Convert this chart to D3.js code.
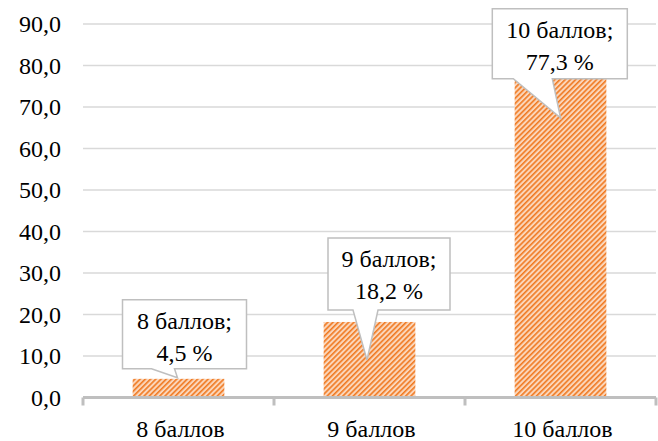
<!DOCTYPE html>
<html>
<head>
<meta charset="utf-8">
<script src="https://cdn.jsdelivr.net/npm/d3@7"></script>
</head>
<body style="margin:0">
<svg id="chart" width="658" height="441"></svg>
<script>
// Доля участников по набранным баллам, %
const categories = ["8 баллов", "9 баллов", "10 баллов"];
const values = [4.5, 18.2, 77.3];
const tickValues = [0, 10, 20, 30, 40, 50, 60, 70, 80, 90];

// Callout placement relative to each bar: box centre offset (dx), box bottom
// offset from the bar top (dy), box size, and where the pointer tip lands.
const calloutLayout = [
  { dx: 6, dy: -10, w: 124, h: 69, tipDx: -1, tipDy: -1, baseL: -33, baseR: -10 },
  { dx: 19.5, dy: -12, w: 122, h: 72, tipDx: -2.5, tipDy: 38, baseL: -36, baseR: -11 },
  { dx: -0.7, dy: 2, w: 135, h: 70, tipDx: 0, tipDy: 41, baseL: -46.5, baseR: -7.5 }
];

const FONT = 24;
const svg = d3.select("#chart");
const margin = { left: 83, right: 2, top: 24, bottom: 43.5 };
const W = 658, H = 441;

const x = d3.scaleBand()
  .domain(categories)
  .range([margin.left, W - margin.right])
  .paddingInner(0.52)
  .paddingOuter(0.26);

const y = d3.scaleLinear()
  .domain([0, 90])
  .range([H - margin.bottom, margin.top]);

const fmt = v => d3.format(".1f")(v).replace(".", ",");
const serif = sel => sel
  .attr("font-family", "Liberation Serif")
  .attr("font-size", FONT);

// Diagonal hatch for the bars
const defs = svg.append("defs");
const pat = defs.append("pattern")
  .attr("id", "hatch")
  .attr("patternUnits", "userSpaceOnUse")
  .attr("width", 3.7)
  .attr("height", 3.7)
  .attr("patternTransform", "rotate(45)");
pat.append("rect").attr("width", 3.7).attr("height", 3.7).attr("fill", "#FBD6BA");
pat.append("rect").attr("width", 1.6).attr("height", 3.7).attr("fill", "#F07A22");

// Horizontal gridlines
svg.append("g")
  .selectAll("line")
  .data(tickValues.filter(d => d > 0))
  .join("line")
  .attr("x1", margin.left)
  .attr("x2", W - margin.right)
  .attr("y1", d => y(d))
  .attr("y2", d => y(d))
  .attr("stroke", "#D9D9D9")
  .attr("stroke-width", 1.5);

// Y axis tick labels
svg.append("g")
  .selectAll("text")
  .data(tickValues)
  .join("text")
  .attr("x", margin.left - 22)
  .attr("y", d => y(d) + 8)
  .attr("text-anchor", "end")
  .call(serif)
  .text(fmt);

// Bars
svg.append("g")
  .selectAll("rect")
  .data(values)
  .join("rect")
  .attr("x", (d, i) => x(categories[i]))
  .attr("width", x.bandwidth())
  .attr("y", d => y(d))
  .attr("height", d => y(0) - y(d))
  .attr("fill", "url(#hatch)");

// X axis: baseline with tick marks at category boundaries
const n = categories.length;
const boundaries = d3.range(n + 1).map(i => margin.left + i * (W - margin.right - margin.left) / n);
const gx = svg.append("g");
gx.append("line")
  .attr("x1", margin.left)
  .attr("x2", W - margin.right)
  .attr("y1", y(0))
  .attr("y2", y(0))
  .attr("stroke", "#BFBFBF")
  .attr("stroke-width", 3);
gx.selectAll("line.tick")
  .data(boundaries)
  .join("line")
  .attr("class", "tick")
  .attr("x1", d => d)
  .attr("x2", d => d)
  .attr("y1", y(0))
  .attr("y2", y(0) + 8)
  .attr("stroke", "#BFBFBF")
  .attr("stroke-width", 3);
gx.selectAll("text")
  .data(categories)
  .join("text")
  .attr("x", d => x(d) + x.bandwidth() / 2 + 2)
  .attr("y", y(0) + 39.5)
  .attr("text-anchor", "middle")
  .call(serif)
  .text(d => d);

// Data label callouts
const callouts = svg.append("g");
values.forEach((v, i) => {
  const L = calloutLayout[i];
  const barMid = x(categories[i]) + x.bandwidth() / 2;
  const cx = barMid + L.dx;
  const bottom = y(v) + L.dy;
  const top = bottom - L.h;
  const left = cx - L.w / 2, right = cx + L.w / 2;
  const tipX = barMid + L.tipDx;
  const tipY = y(v) + L.tipDy;
  const bl = cx + L.baseL, br = cx + L.baseR;
  const path = `M${left},${top} H${right} V${bottom} H${br} L${tipX},${tipY} L${bl},${bottom} H${left} Z`;
  callouts.append("path")
    .attr("d", path)
    .attr("fill", "#fff")
    .attr("stroke", "#BFBFBF")
    .attr("stroke-width", 1.5);
  callouts.append("text")
    .attr("x", cx).attr("y", top + 29)
    .attr("text-anchor", "middle")
    .call(serif)
    .text(categories[i] + ";");
  callouts.append("text")
    .attr("x", cx).attr("y", top + 61)
    .attr("text-anchor", "middle")
    .call(serif)
    .text(fmt(v) + " %");
});
</script>
</body>
</html>
